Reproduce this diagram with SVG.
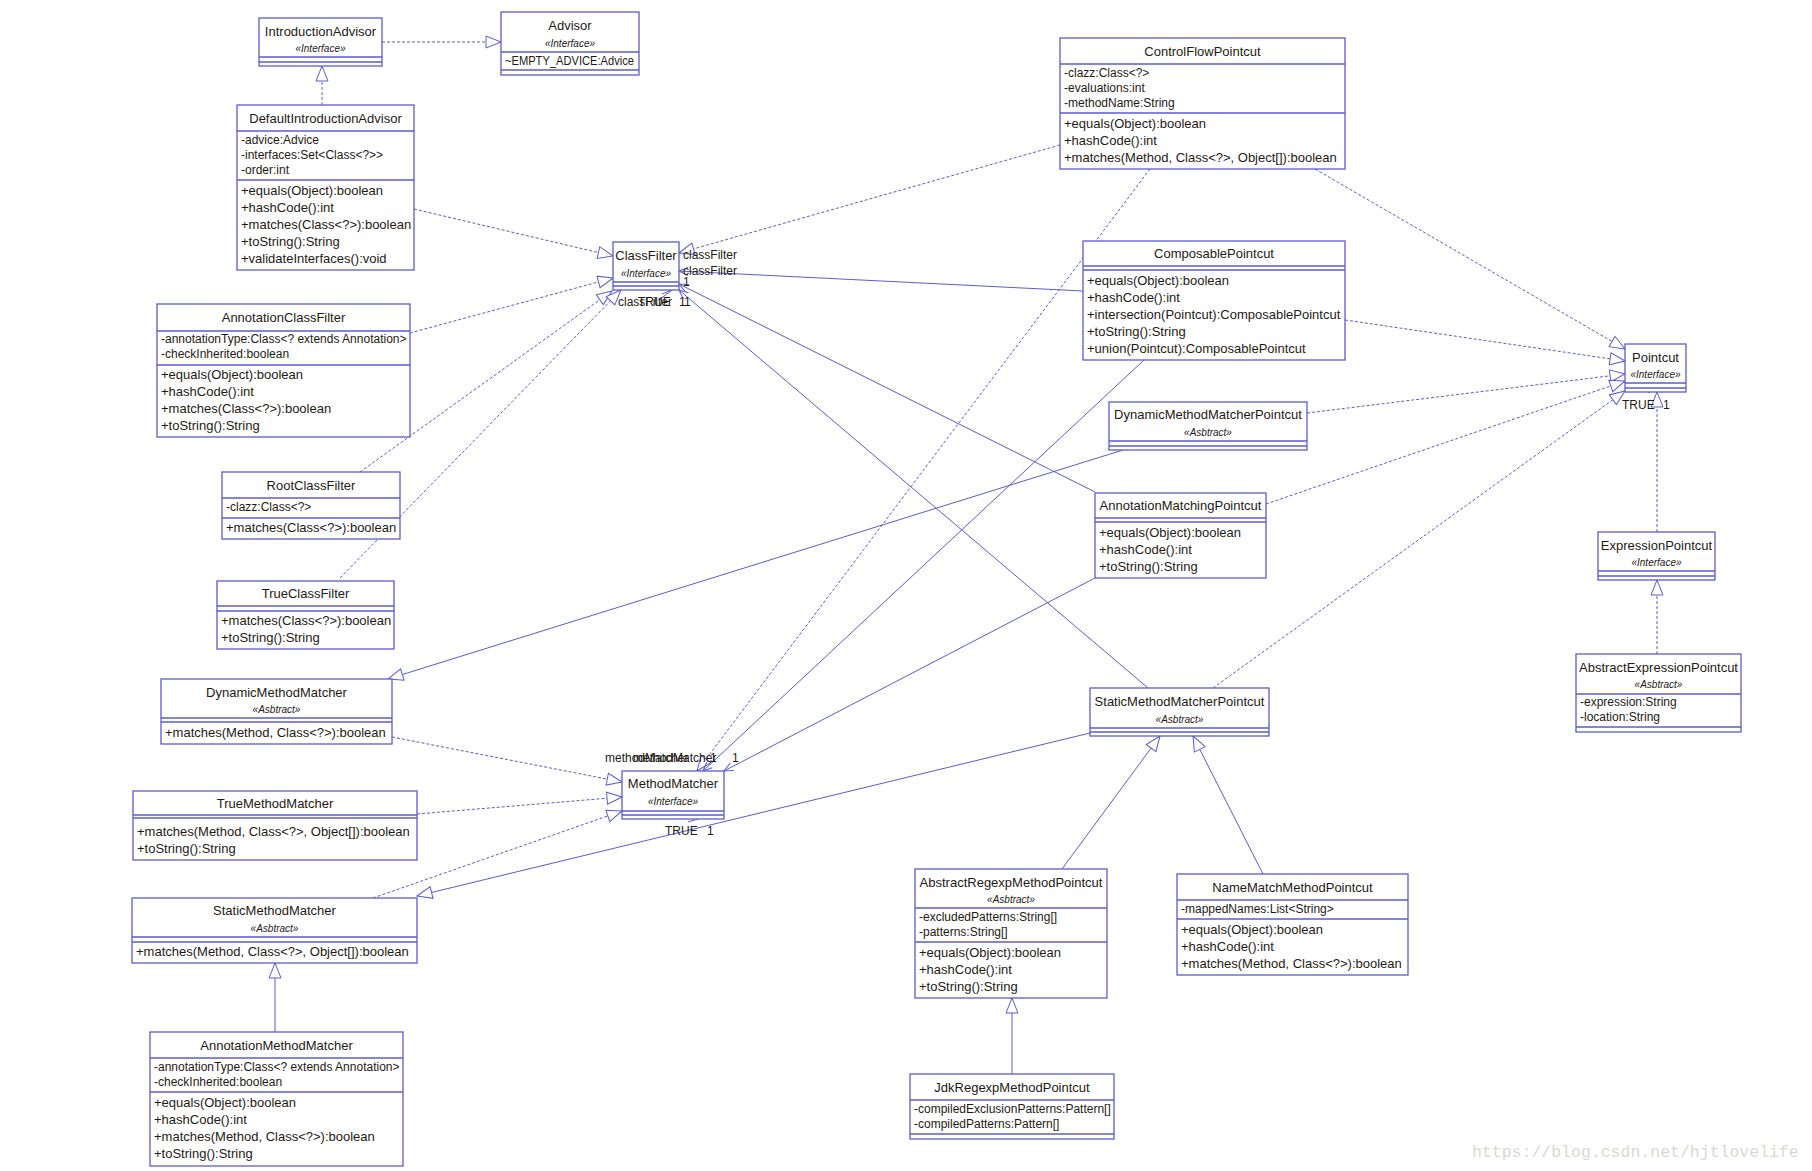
<svg xmlns="http://www.w3.org/2000/svg" width="1812" height="1171" viewBox="0 0 1812 1171">
<defs>
<style>
.n rect{fill:#fff;stroke:#5b5bd1;stroke-width:1.3}
.n line{stroke:#5b5bd1;stroke-width:1.3}
text{font-family:"Liberation Sans",Arial,sans-serif;fill:#1e1a14}
.t{font-size:13px;text-anchor:middle}
.s{font-size:10px;font-style:italic;text-anchor:middle}
.a{font-size:12px}
.m{font-size:13px}
.l{font-size:12px}
.c line,.c path{stroke:#5b5bd1;stroke-width:1;fill:none}
.c .d{stroke-dasharray:3 2}
.tri{marker-end:url(#tri)}
.arr{marker-end:url(#arr)}
.wm{font-family:"Liberation Mono",monospace;font-size:16.5px;fill:#d9d9d2}
</style>
<marker id="tri" markerUnits="userSpaceOnUse" markerWidth="18" markerHeight="14" viewBox="-17 -7 18 14" refX="0" refY="0" orient="auto" style="overflow:visible">
<path d="M0,0 L-15,-6 L-15,6 Z" fill="#fff" stroke="#5b5bd1" stroke-width="1"/>
</marker>
<marker id="arr" markerUnits="userSpaceOnUse" markerWidth="12" markerHeight="10" viewBox="-11 -5 12 10" refX="0" refY="0" orient="auto" style="overflow:visible">
<path d="M-9,-4 L0,0 L-9,4" fill="none" stroke="#5b5bd1" stroke-width="1"/>
</marker>
</defs>
<rect width="1812" height="1171" fill="#fff"/>

<g class="c" id="connectors">
<line class="d tri" x1="382" y1="42" x2="501" y2="42"/>
<line class="d tri" x1="322" y1="105" x2="322" y2="66"/>
<line class="d tri" x1="414" y1="209" x2="613" y2="256"/>
<line class="d tri" x1="410" y1="333" x2="613" y2="278"/>
<line class="d tri" x1="360" y1="472" x2="612" y2="291"/>
<line class="d tri" x1="340" y1="578" x2="621" y2="290"/>
<line class="d tri" x1="1060" y1="145" x2="679" y2="253"/>
<line class="arr" x1="1083" y1="291" x2="679" y2="271"/>
<line class="arr" x1="1095" y1="492" x2="679" y2="284"/>
<line class="arr" x1="1148" y1="688" x2="679" y2="290"/>
<line class="d tri" x1="1315" y1="169" x2="1625" y2="349"/>
<line class="d tri" x1="1345" y1="320" x2="1625" y2="361"/>
<line class="d tri" x1="1307" y1="413" x2="1625" y2="374"/>
<line class="d tri" x1="1266" y1="504" x2="1625" y2="381"/>
<line class="d tri" x1="1213" y1="688" x2="1625" y2="391"/>
<line class="d tri" x1="1657" y1="532" x2="1657" y2="392"/>
<line class="d tri" x1="1657" y1="654" x2="1657" y2="580"/>
<line class="d tri" x1="1150" y1="169" x2="697" y2="771"/>
<line class="arr" x1="1144" y1="360" x2="703" y2="771"/>
<line class="arr" x1="1095" y1="578" x2="724" y2="771"/>
<line class="tri" x1="1123" y1="450" x2="388" y2="679"/>
<line class="d tri" x1="392" y1="737" x2="622" y2="782"/>
<line class="d tri" x1="417" y1="814" x2="622" y2="797"/>
<line class="d tri" x1="373" y1="898" x2="622" y2="811"/>
<line class="tri" x1="1090" y1="733" x2="417" y2="896"/>
<line class="tri" x1="275" y1="1032" x2="275" y2="963"/>
<line class="tri" x1="1062" y1="869" x2="1160" y2="736"/>
<line class="tri" x1="1263" y1="874" x2="1193" y2="736"/>
<line class="tri" x1="1012" y1="1074" x2="1012" y2="998"/>
<path d="M662,294 L672,290 M660,299 L671,291"/>
<path d="M688,816 L698,819 L688,822"/>
<path d="M1644,389 L1650,393"/>
</g>

<g id="labels">
<text class="l" x="683" y="259">classFilter</text>
<text class="l" x="683" y="275">classFilter</text>
<text class="l" x="683" y="286">1</text>
<text class="l" x="618" y="306">classFilter</text>
<text class="l" x="638" y="306">TRUE</text>
<text class="l" x="679" y="306">1</text>
<text class="l" x="684" y="306">1</text>
<text class="l" x="605" y="762">methodMatcher</text>
<text class="l" x="633" y="762">methodMatcher</text>
<text class="l" x="710" y="762">1</text>
<text class="l" x="732" y="762">1</text>
<text class="l" x="665" y="835">TRUE</text>
<text class="l" x="707" y="835">1</text>
<text class="l" x="1622" y="409">TRUE</text>
<text class="l" x="1663" y="409">1</text>
</g>

<g id="IntroductionAdvisor" class="n">
<rect x="259" y="18" width="123" height="48"/>
<line x1="259" y1="57" x2="382" y2="57"/><line x1="259" y1="62" x2="382" y2="62"/>
<text class="t" x="320.5" y="35.5">IntroductionAdvisor</text>
<text class="s" x="320.5" y="51.5">«Interface»</text>
</g>

<g id="Advisor" class="n">
<rect x="501" y="12" width="138" height="63"/>
<line x1="501" y1="52" x2="639" y2="52"/><line x1="501" y1="70" x2="639" y2="70"/>
<text class="t" x="570" y="29.5">Advisor</text>
<text class="s" x="570" y="46.5">«Interface»</text>
<text class="a" x="505" y="64.5" textLength="129" lengthAdjust="spacingAndGlyphs">~EMPTY_ADVICE:Advice</text>
</g>

<g id="DefaultIntroductionAdvisor" class="n">
<rect x="237" y="105" width="177" height="165"/>
<line x1="237" y1="131" x2="414" y2="131"/><line x1="237" y1="180" x2="414" y2="180"/>
<text class="t" x="325.5" y="122.5">DefaultIntroductionAdvisor</text>
<text class="a" x="241" y="144">-advice:Advice</text>
<text class="a" x="241" y="159">-interfaces:Set&lt;Class&lt;?&gt;&gt;</text>
<text class="a" x="241" y="174">-order:int</text>
<text class="m" x="241" y="194.5">+equals(Object):boolean</text>
<text class="m" x="241" y="211.5">+hashCode():int</text>
<text class="m" x="241" y="228.5">+matches(Class&lt;?&gt;):boolean</text>
<text class="m" x="241" y="245.5">+toString():String</text>
<text class="m" x="241" y="262.5">+validateInterfaces():void</text>
</g>

<g id="ClassFilter" class="n">
<rect x="613" y="242" width="66" height="48"/>
<line x1="613" y1="282" x2="679" y2="282"/><line x1="613" y1="286" x2="679" y2="286"/>
<text class="t" x="646" y="259.5">ClassFilter</text>
<text class="s" x="646" y="276.5">«Interface»</text>
</g>

<g id="AnnotationClassFilter" class="n">
<rect x="157" y="304" width="253" height="133"/>
<line x1="157" y1="331" x2="410" y2="331"/><line x1="157" y1="365" x2="410" y2="365"/>
<text class="t" x="283.5" y="321.5">AnnotationClassFilter</text>
<text class="a" x="161" y="343">-annotationType:Class&lt;? extends Annotation&gt;</text>
<text class="a" x="161" y="358">-checkInherited:boolean</text>
<text class="m" x="161" y="378.5">+equals(Object):boolean</text>
<text class="m" x="161" y="395.5">+hashCode():int</text>
<text class="m" x="161" y="412.5">+matches(Class&lt;?&gt;):boolean</text>
<text class="m" x="161" y="429.5">+toString():String</text>
</g>

<g id="RootClassFilter" class="n">
<rect x="222" y="472" width="178" height="67"/>
<line x1="222" y1="498" x2="400" y2="498"/><line x1="222" y1="518" x2="400" y2="518"/>
<text class="t" x="311" y="489.5">RootClassFilter</text>
<text class="a" x="226" y="511">-clazz:Class&lt;?&gt;</text>
<text class="m" x="226" y="531.5">+matches(Class&lt;?&gt;):boolean</text>
</g>

<g id="TrueClassFilter" class="n">
<rect x="217" y="581" width="177" height="68"/>
<line x1="217" y1="606" x2="394" y2="606"/><line x1="217" y1="611" x2="394" y2="611"/>
<text class="t" x="305.5" y="597.5">TrueClassFilter</text>
<text class="m" x="221" y="624.5">+matches(Class&lt;?&gt;):boolean</text>
<text class="m" x="221" y="641.5">+toString():String</text>
</g>

<g id="ControlFlowPointcut" class="n">
<rect x="1060" y="38" width="285" height="131"/>
<line x1="1060" y1="64" x2="1345" y2="64"/><line x1="1060" y1="113" x2="1345" y2="113"/>
<text class="t" x="1202.5" y="55.5">ControlFlowPointcut</text>
<text class="a" x="1064" y="77">-clazz:Class&lt;?&gt;</text>
<text class="a" x="1064" y="92">-evaluations:int</text>
<text class="a" x="1064" y="107">-methodName:String</text>
<text class="m" x="1064" y="127.5">+equals(Object):boolean</text>
<text class="m" x="1064" y="144.5">+hashCode():int</text>
<text class="m" x="1064" y="161.5">+matches(Method, Class&lt;?&gt;, Object[]):boolean</text>
</g>

<g id="ComposablePointcut" class="n">
<rect x="1083" y="241" width="262" height="119"/>
<line x1="1083" y1="266" x2="1345" y2="266"/><line x1="1083" y1="270" x2="1345" y2="270"/>
<text class="t" x="1214" y="257.5">ComposablePointcut</text>
<text class="m" x="1087" y="284.5">+equals(Object):boolean</text>
<text class="m" x="1087" y="301.5">+hashCode():int</text>
<text class="m" x="1087" y="318.5">+intersection(Pointcut):ComposablePointcut</text>
<text class="m" x="1087" y="335.5">+toString():String</text>
<text class="m" x="1087" y="352.5">+union(Pointcut):ComposablePointcut</text>
</g>

<g id="DynamicMethodMatcherPointcut" class="n">
<rect x="1109" y="402" width="198" height="48"/>
<line x1="1109" y1="441" x2="1307" y2="441"/><line x1="1109" y1="446" x2="1307" y2="446"/>
<text class="t" x="1208" y="418.5">DynamicMethodMatcherPointcut</text>
<text class="s" x="1208" y="435.5">«Asbtract»</text>
</g>

<g id="AnnotationMatchingPointcut" class="n">
<rect x="1095" y="493" width="171" height="85"/>
<line x1="1095" y1="518" x2="1266" y2="518"/><line x1="1095" y1="522" x2="1266" y2="522"/>
<text class="t" x="1180.5" y="509.5">AnnotationMatchingPointcut</text>
<text class="m" x="1099" y="536.5">+equals(Object):boolean</text>
<text class="m" x="1099" y="553.5">+hashCode():int</text>
<text class="m" x="1099" y="570.5">+toString():String</text>
</g>

<g id="Pointcut" class="n">
<rect x="1625" y="344" width="61" height="48"/>
<line x1="1625" y1="383" x2="1686" y2="383"/><line x1="1625" y1="388" x2="1686" y2="388"/>
<text class="t" x="1655.5" y="361.5">Pointcut</text>
<text class="s" x="1655.5" y="377.5">«Interface»</text>
</g>

<g id="ExpressionPointcut" class="n">
<rect x="1598" y="532" width="117" height="48"/>
<line x1="1598" y1="571" x2="1715" y2="571"/><line x1="1598" y1="576" x2="1715" y2="576"/>
<text class="t" x="1656.5" y="549.5">ExpressionPointcut</text>
<text class="s" x="1656.5" y="565.5">«Interface»</text>
</g>

<g id="AbstractExpressionPointcut" class="n">
<rect x="1576" y="654" width="165" height="78"/>
<line x1="1576" y1="694" x2="1741" y2="694"/><line x1="1576" y1="727" x2="1741" y2="727"/>
<text class="t" x="1658.5" y="671.5">AbstractExpressionPointcut</text>
<text class="s" x="1658.5" y="687.5">«Asbtract»</text>
<text class="a" x="1580" y="706">-expression:String</text>
<text class="a" x="1580" y="721">-location:String</text>
</g>

<g id="DynamicMethodMatcher" class="n">
<rect x="161" y="679" width="231" height="65"/>
<line x1="161" y1="718" x2="392" y2="718"/><line x1="161" y1="722" x2="392" y2="722"/>
<text class="t" x="276.5" y="696.5">DynamicMethodMatcher</text>
<text class="s" x="276.5" y="712.5">«Asbtract»</text>
<text class="m" x="165" y="736.5">+matches(Method, Class&lt;?&gt;):boolean</text>
</g>

<g id="MethodMatcher" class="n">
<rect x="622" y="771" width="102" height="48"/>
<line x1="622" y1="811" x2="724" y2="811"/><line x1="622" y1="815" x2="724" y2="815"/>
<text class="t" x="673" y="787.5">MethodMatcher</text>
<text class="s" x="673" y="804.5">«Interface»</text>
</g>

<g id="TrueMethodMatcher" class="n">
<rect x="133" y="791" width="284" height="69"/>
<line x1="133" y1="815" x2="417" y2="815"/><line x1="133" y1="818" x2="417" y2="818"/>
<text class="t" x="275" y="807.5">TrueMethodMatcher</text>
<text class="m" x="137" y="835.5">+matches(Method, Class&lt;?&gt;, Object[]):boolean</text>
<text class="m" x="137" y="852.5">+toString():String</text>
</g>

<g id="StaticMethodMatcher" class="n">
<rect x="132" y="898" width="285" height="65"/>
<line x1="132" y1="937" x2="417" y2="937"/><line x1="132" y1="942" x2="417" y2="942"/>
<text class="t" x="274.5" y="914.5">StaticMethodMatcher</text>
<text class="s" x="274.5" y="931.5">«Asbtract»</text>
<text class="m" x="136" y="955.5">+matches(Method, Class&lt;?&gt;, Object[]):boolean</text>
</g>

<g id="AnnotationMethodMatcher" class="n">
<rect x="150" y="1032" width="253" height="134"/>
<line x1="150" y1="1058" x2="403" y2="1058"/><line x1="150" y1="1092" x2="403" y2="1092"/>
<text class="t" x="276.5" y="1049.5">AnnotationMethodMatcher</text>
<text class="a" x="154" y="1071">-annotationType:Class&lt;? extends Annotation&gt;</text>
<text class="a" x="154" y="1086">-checkInherited:boolean</text>
<text class="m" x="154" y="1106.5">+equals(Object):boolean</text>
<text class="m" x="154" y="1123.5">+hashCode():int</text>
<text class="m" x="154" y="1140.5">+matches(Method, Class&lt;?&gt;):boolean</text>
<text class="m" x="154" y="1157.5">+toString():String</text>
</g>

<g id="StaticMethodMatcherPointcut" class="n">
<rect x="1090" y="688" width="179" height="48"/>
<line x1="1090" y1="728" x2="1269" y2="728"/><line x1="1090" y1="732" x2="1269" y2="732"/>
<text class="t" x="1179.5" y="705.5">StaticMethodMatcherPointcut</text>
<text class="s" x="1179.5" y="722.5">«Asbtract»</text>
</g>

<g id="NameMatchMethodPointcut" class="n">
<rect x="1177" y="874" width="231" height="101"/>
<line x1="1177" y1="900" x2="1408" y2="900"/><line x1="1177" y1="919" x2="1408" y2="919"/>
<text class="t" x="1292.5" y="891.5">NameMatchMethodPointcut</text>
<text class="a" x="1181" y="913">-mappedNames:List&lt;String&gt;</text>
<text class="m" x="1181" y="933.5">+equals(Object):boolean</text>
<text class="m" x="1181" y="950.5">+hashCode():int</text>
<text class="m" x="1181" y="967.5">+matches(Method, Class&lt;?&gt;):boolean</text>
</g>

<g id="AbstractRegexpMethodPointcut" class="n">
<rect x="915" y="869" width="192" height="129"/>
<line x1="915" y1="908" x2="1107" y2="908"/><line x1="915" y1="942" x2="1107" y2="942"/>
<text class="t" x="1011" y="886.5">AbstractRegexpMethodPointcut</text>
<text class="s" x="1011" y="902.5">«Asbtract»</text>
<text class="a" x="919" y="921">-excludedPatterns:String[]</text>
<text class="a" x="919" y="936">-patterns:String[]</text>
<text class="m" x="919" y="956.5">+equals(Object):boolean</text>
<text class="m" x="919" y="973.5">+hashCode():int</text>
<text class="m" x="919" y="990.5">+toString():String</text>
</g>

<g id="JdkRegexpMethodPointcut" class="n">
<rect x="910" y="1074" width="204" height="65"/>
<line x1="910" y1="1100" x2="1114" y2="1100"/><line x1="910" y1="1134" x2="1114" y2="1134"/>
<text class="t" x="1012" y="1091.5">JdkRegexpMethodPointcut</text>
<text class="a" x="914" y="1113">-compiledExclusionPatterns:Pattern[]</text>
<text class="a" x="914" y="1128">-compiledPatterns:Pattern[]</text>
</g>

<text class="wm" x="1472" y="1157">https://blog.csdn.net/hjtlovelife</text>
</svg>
